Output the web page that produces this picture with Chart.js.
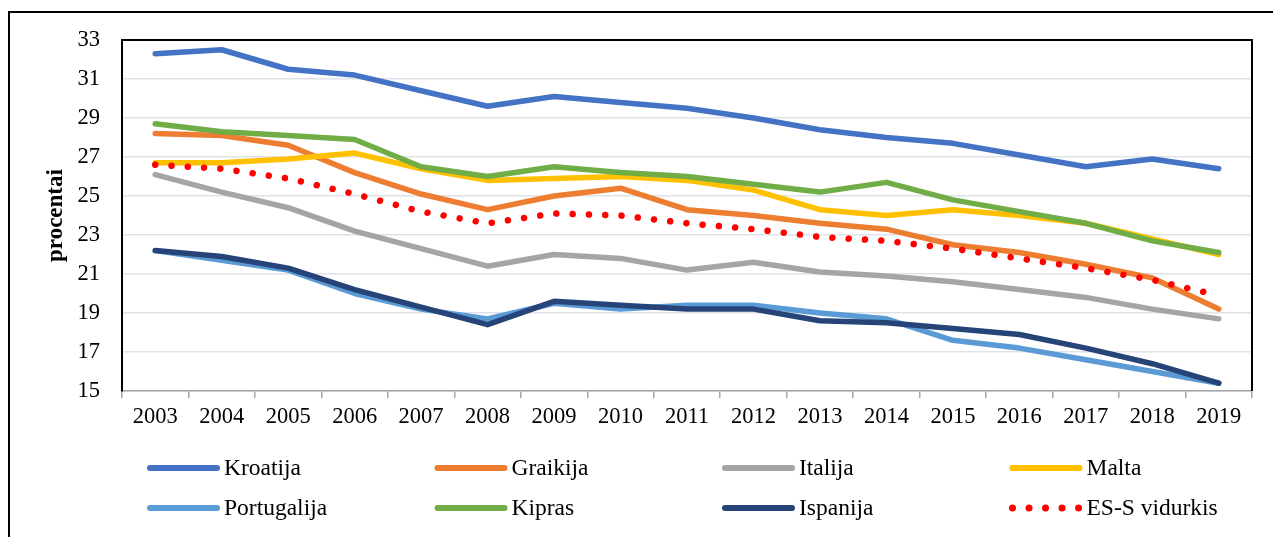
<!DOCTYPE html>
<html>
<head>
<meta charset="utf-8">
<script src="https://cdn.jsdelivr.net/npm/chart.js@4"></script>
<style>
  body { margin: 0; background: #fff; }
  #frame { position: absolute; left: 8px; top: 11px; width: 1280px; height: 540px;
           border-top: 2px solid #000; border-left: 2px solid #000; }
  #wrap { position: absolute; left: 0; top: 0; width: 1273px; height: 537px; }
</style>
</head>
<body>
<div id="frame"></div>
<div id="wrap"><canvas id="lineChart" width="1273" height="537"></canvas></div>
<script>
// years on the x axis
var years = ["2003","2004","2005","2006","2007","2008","2009","2010","2011","2012","2013","2014","2015","2016","2017","2018","2019"];

// series values (procentai)
var kroatija    = [32.3,32.5,31.5,31.2,30.4,29.6,30.1,29.8,29.5,29.0,28.4,28.0,27.7,27.1,26.5,26.9,26.4];
var graikija    = [28.2,28.1,27.6,26.2,25.1,24.3,25.0,25.4,24.3,24.0,23.6,23.3,22.5,22.1,21.5,20.8,19.2];
var italija     = [26.1,25.2,24.4,23.2,22.3,21.4,22.0,21.8,21.2,21.6,21.1,20.9,20.6,20.2,19.8,19.2,18.7];
var malta       = [26.7,26.7,26.9,27.2,26.4,25.8,25.9,26.0,25.8,25.3,24.3,24.0,24.3,24.0,23.6,22.8,22.0];
var portugalija = [22.2,21.7,21.2,20.0,19.2,18.7,19.5,19.2,19.4,19.4,19.0,18.7,17.6,17.2,16.6,16.0,15.4];
var kipras      = [28.7,28.3,28.1,27.9,26.5,26.0,26.5,26.2,26.0,25.6,25.2,25.7,24.8,24.2,23.6,22.7,22.1];
var ispanija    = [22.2,21.9,21.3,20.2,19.3,18.4,19.6,19.4,19.2,19.2,18.6,18.5,18.2,17.9,17.2,16.4,15.4];
var esVidurkis  = [26.6,26.4,25.9,25.1,24.2,23.6,24.1,24.0,23.6,23.3,22.9,22.7,22.3,21.8,21.3,20.7,19.9];

var seriesNames = ["Kroatija","Graikija","Italija","Malta","Portugalija","Kipras","Ispanija","ES-S vidurkis"];
var seriesData = [kroatija, graikija, italija, malta, portugalija, kipras, ispanija, esVidurkis];
var seriesColors = ["#4472C4","#ED7D31","#A5A5A5","#FFC000","#5B9BD5","#70AD47","#264478","#FF0000"];

var yTicks = { min: 15, max: 33, step: 2 };

var FONT = "'Liberation Serif', 'Times New Roman', serif";

var datasets = [];
for (var i = 0; i < seriesNames.length; i++) {
  var dotted = (i == seriesNames.length - 1);
  datasets.push({
    label: seriesNames[i],
    data: seriesData[i],
    borderColor: seriesColors[i],
    backgroundColor: seriesColors[i],
    borderWidth: dotted ? 6.5 : 5.5,
    borderDash: dotted ? [0.01, 16.3] : [],
    borderCapStyle: 'round',
    borderJoinStyle: 'round',
    pointRadius: 0,
    tension: 0,
    fill: false,
    // later series are drawn on top, as in the original
    order: seriesNames.length - i
  });
}

// black frame round the plot area (top, right)
var plotFrame = {
  id: 'plotFrame',
  afterDatasetsDraw: function(chart) {
    var a = chart.chartArea, ctx = chart.ctx;
    ctx.save();
    ctx.strokeStyle = '#000';
    ctx.lineWidth = 2;
    ctx.beginPath();
    ctx.moveTo(a.left, a.bottom);
    ctx.lineTo(a.left, a.top);
    ctx.lineTo(a.right, a.top);
    ctx.lineTo(a.right, a.bottom);
    ctx.stroke();
    ctx.restore();
  }
};

// legend in a 4 x 2 grid under the axis
var gridLegend = {
  id: 'gridLegend',
  afterDraw: function(chart) {
    var ctx = chart.ctx;
    var ds = chart.data.datasets;
    ctx.save();
    for (var i = 0; i < ds.length; i++) {
      var col = i % 4, row = Math.floor(i / 4);
      var x0 = 147 + col * 287.5;
      var y = 468 + row * 40;
      ctx.strokeStyle = ds[i].borderColor;
      ctx.lineWidth = ds[i].borderDash.length ? 7 : 6;
      ctx.lineCap = 'round';
      ctx.setLineDash(ds[i].borderDash.length ? [0.01, 16.5] : []);
      ctx.beginPath();
      ctx.moveTo(x0 + 3, y);
      ctx.lineTo(x0 + 70, y);
      ctx.stroke();
      ctx.setLineDash([]);
      ctx.fillStyle = '#000';
      ctx.font = "23.5px " + FONT;
      ctx.textBaseline = 'middle';
      ctx.textAlign = 'left';
      ctx.fillText(ds[i].label, x0 + 77, y + 1);
    }
    ctx.restore();
  }
};

var ctxL = document.getElementById("lineChart").getContext('2d');
var myLineChart = new Chart(ctxL, {
  type: 'line',
  data: {
    labels: years,
    datasets: datasets
  },
  options: {
    responsive: false,
    devicePixelRatio: 1,
    animation: false,
    layout: { padding: { left: 0, top: 40, right: 21, bottom: 106 } },
    plugins: {
      legend: { display: false },
      tooltip: { enabled: false }
    },
    scales: {
      x: {
        type: 'category',
        offset: true,
        grid: { offset: true, drawOnChartArea: false, drawTicks: true, tickLength: 7, color: '#a6a6a6', lineWidth: 1.5 },
        border: { color: '#a6a6a6', width: 1.5 },
        ticks: { color: '#000', font: { family: FONT, size: 22.5 }, padding: 6, maxRotation: 0, autoSkip: false },
        afterFit: function(scale) { scale.height = 40; }
      },
      y: {
        min: yTicks.min,
        max: yTicks.max,
        grid: { color: '#dfe2e7', lineWidth: 1.5, drawTicks: false },
        border: { color: '#000', width: 2 },
        ticks: { stepSize: yTicks.step, color: '#000', font: { family: FONT, size: 22.5 }, padding: 22 },
        title: { display: true, text: 'procentai', color: '#000', font: { family: FONT, size: 23, weight: 'bold' }, padding: { top: 42, bottom: 0 } },
        afterFit: function(scale) { scale.width = 122; }
      }
    }
  },
  plugins: [plotFrame, gridLegend]
});
</script>
</body>
</html>
